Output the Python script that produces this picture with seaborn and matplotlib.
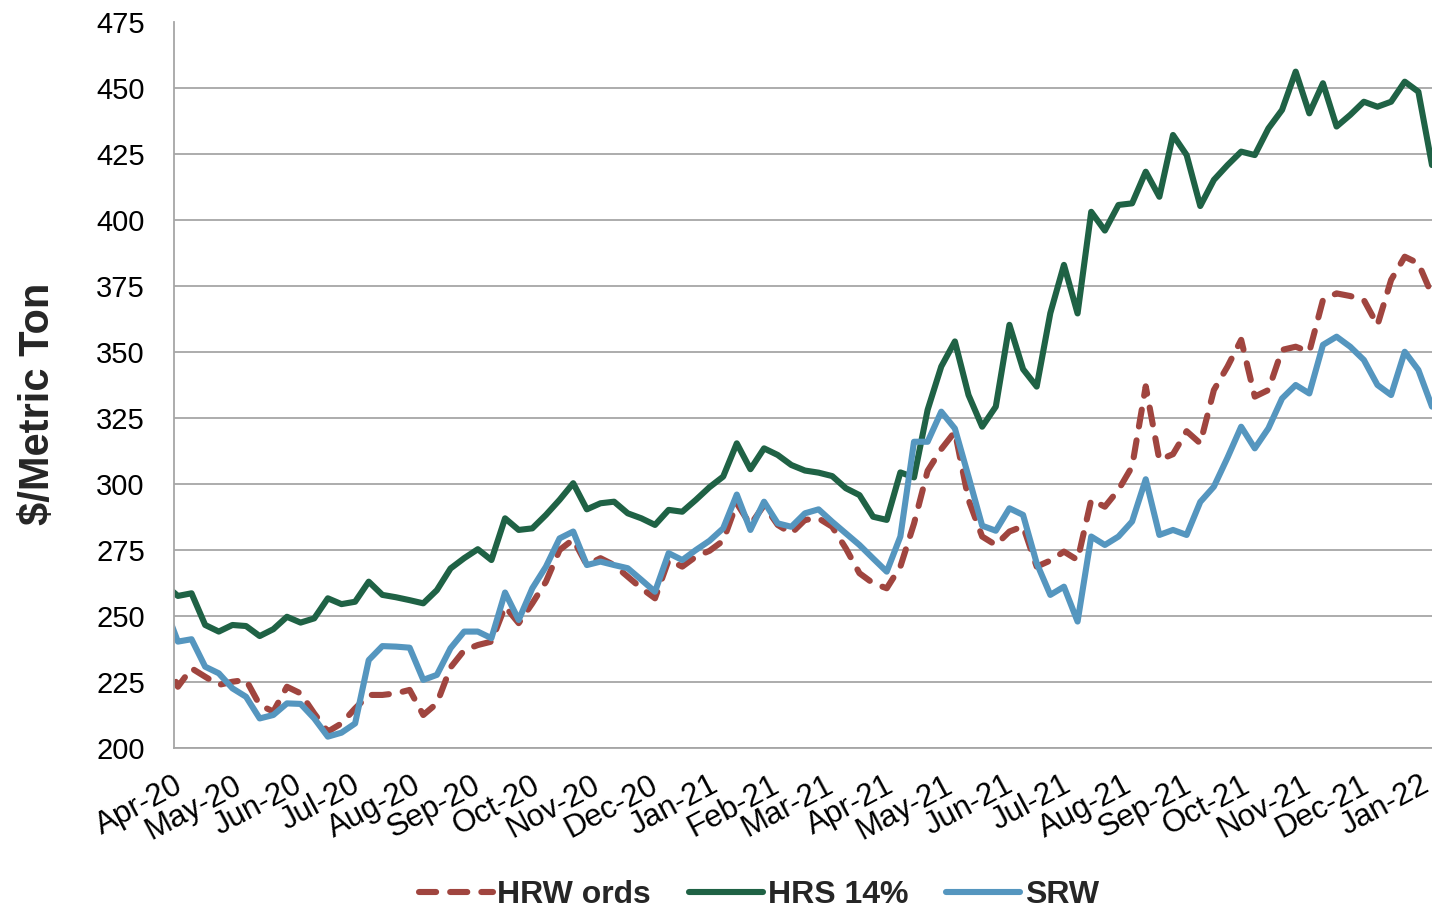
import pandas as pd
import matplotlib
matplotlib.use("Agg")
import matplotlib.pyplot as plt
import matplotlib.dates as mdates
import seaborn as sns

# ------------------------------------------------------------------
# Weekly export quotes ($/metric ton). First week (27 Mar 2020) only
# feeds the left edge, which is clipped at 1 Apr 2020.
# ------------------------------------------------------------------
dates = pd.date_range("2020-03-27", periods=94, freq="7D")

hrw_ords = [
    236, 223.2, 230.2, 227, 223.9, 225.1, 225.8, 216.3, 213.8, 223.2,
    220.7, 213.1, 206.2, 209.3, 215, 220.1, 220.1, 220.7, 222, 212.5,
    216.9, 230.5, 237, 239, 240.3, 253.6, 247.3, 254.8, 263, 275,
    279, 269.3, 271.9, 269.3, 264.9, 260.5, 256.7, 271.2, 268.7, 272.5,
    274.7, 278.5, 292.7, 284.5, 292, 284.5, 281.3, 286.4, 287, 283.8,
    275.6, 266.2, 262.4, 260.5, 268.7, 285, 305, 313.2, 319.8, 294,
    280.1, 276.9, 282, 284, 268.7, 271, 274.4, 271.2, 294, 291.4,
    297.8, 306.6, 337, 309.1, 311.3, 320, 315.4, 335.6, 344.5, 354.6,
    333.1, 335.6, 350.8, 352, 350.1, 369.7, 372.2, 371.2, 369.7, 360.2,
    377.3, 386.1, 383.6, 371.6,
]

hrs_14 = [
    262, 257.6, 258.6, 246.6, 244.1, 246.6, 246.2, 242.4, 245, 249.7,
    247.5, 249.1, 256.7, 254.5, 255.4, 263, 258, 257.1, 256, 254.8,
    259.8, 268, 271.9, 275.3, 271.2, 287, 282.6, 283.2, 288.3, 294,
    300.3, 290.4, 292.7, 293.3, 288.9, 287, 284.5, 290.2, 289.5, 294,
    298.8, 302.8, 315.4, 305.6, 313.5, 311, 307.2, 305.1, 304.3, 303,
    298.4, 295.8, 287.6, 286.4, 304.4, 302.5, 328.1, 344.5, 354, 333.7,
    321.7, 329.3, 360.3, 343.5, 336.9, 364.7, 383, 364.6, 403.1, 396,
    405.7, 406.3, 418.3, 408.8, 432.2, 424.6, 405.3, 415.2, 420.8, 425.9,
    424.6, 434.7, 441.7, 456.2, 440.4, 451.8, 435.4, 439.8, 444.8, 442.9,
    444.8, 452.4, 448.6, 420.8,
]

srw = [
    254, 240.3, 241.2, 230.8, 228.3, 222.6, 219.4, 211.2, 212.5, 216.9,
    216.7, 211.2, 204.3, 205.8, 209.3, 233.3, 238.6, 238.4, 238, 225.8,
    227.7, 237.8, 244.1, 244.1, 241.6, 258.9, 248.5, 260.5, 268.7, 279.4,
    282, 269.3, 270.6, 269.3, 268.1, 263.7, 259.2, 273.8, 271.2, 275,
    278.5, 283.2, 296, 282.6, 293.3, 285.1, 283.8, 288.9, 290.4, 285.7,
    281.3, 276.9, 271.8, 266.8, 280.1, 316, 316, 327.4, 321, 302.8,
    284.2, 282.3, 290.8, 288.3, 270, 258, 261.1, 247.9, 280.1, 276.9,
    280.1, 285.8, 301.8, 280.7, 282.6, 280.7, 293.2, 299, 310, 321.7,
    313.5, 321.1, 332.4, 337.5, 334.3, 352.7, 355.8, 352, 347, 337.5,
    333.7, 350.1, 343.2, 329.3,
]

series_names = ["HRW ords", "HRS 14%", "SRW"]
series_colors = ["#A0453F", "#1F6245", "#5596BF"]
y_ticks = list(range(200, 476, 25))

# ------------------------------------------------------------------
# Style
# ------------------------------------------------------------------
sns.set_theme(style="white")
fonts = ["Liberation Sans", "DejaVu Sans"]
plt.rcParams["font.family"] = fonts

fig = plt.figure(figsize=(14.32, 9.08), dpi=100)
ax = fig.add_axes([174 / 1432, 1 - 748 / 908, 1 - 174 / 1432, 726 / 908])

values = [hrw_ords, hrs_14, srw]
for name, color, vals in zip(series_names, series_colors, values):
    ls = (0, (2.8, 2.3)) if name == "HRW ords" else "-"
    sns.lineplot(x=dates, y=vals, ax=ax, color=color, linewidth=4.4,
                 linestyle=ls, label=name, dash_capstyle="round",
                 solid_capstyle="round", solid_joinstyle="round")

ax.set_xlim(pd.Timestamp("2020-04-01"), dates[-1])
ax.set_ylim(200, 475)
ax.set_yticks(y_ticks)
ax.yaxis.grid(True, color="#A6A6A6", linewidth=1.3)
ax.xaxis.grid(False)
ax.set_axisbelow(True)
ax.get_ygridlines()[-1].set_visible(False)   # no line at the 475 top

ax.xaxis.set_major_locator(mdates.MonthLocator())
ax.xaxis.set_major_formatter(mdates.DateFormatter("%b-%y"))

for side in ["top", "right"]:
    ax.spines[side].set_visible(False)
for side in ["left", "bottom"]:
    ax.spines[side].set_color("#A6A6A6")
    ax.spines[side].set_linewidth(1.3)

ax.tick_params(axis="both", which="major", direction="out", length=7,
               width=1.3, color="#A6A6A6", labelcolor="black")
ax.tick_params(axis="y", pad=14, labelsize=21)
ax.tick_params(axis="x", pad=9, labelsize=22.5)
for lbl in ax.get_xticklabels():
    lbl.set_rotation(28)
    lbl.set_ha("right")
    lbl.set_rotation_mode("anchor")

ax.set_xlabel("")
ax.set_ylabel("$/Metric Ton", fontsize=30, fontweight="bold")
ax.yaxis.set_label_coords(-0.108, 0.4745)
ax.yaxis.label.set_va("center")

ax.legend_.remove()
handles, labels = ax.get_legend_handles_labels()
fig.legend(handles, labels, loc="center", ncol=3,
           bbox_to_anchor=(0.53, 1 - 895 / 908), frameon=False,
           prop={"family": fonts, "weight": "bold", "size": 23},
           handlelength=2.3, handletextpad=0.15, columnspacing=1.2)

fig.savefig("out.png", dpi=100)
